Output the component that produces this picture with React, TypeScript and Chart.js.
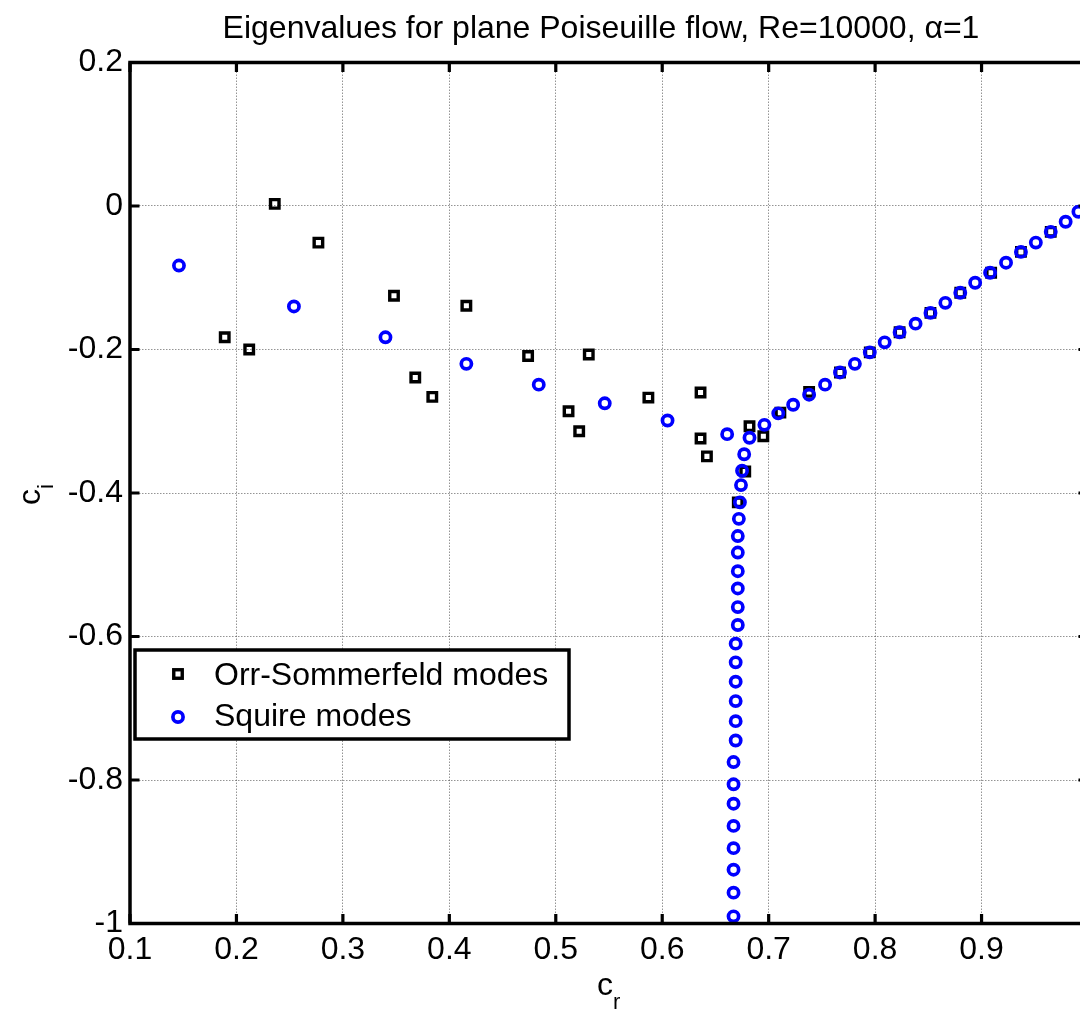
import React, { useEffect, useRef } from 'react';
import { Chart, registerables } from 'chart.js';

Chart.register(...registerables);

// ---- data ----
const osCr = [
  0.236, 0.277, 0.189, 0.212, 0.348, 0.416, 0.474, 0.531, 0.368, 0.384,
  0.587, 0.636, 0.512, 0.522, 0.636, 0.642, 0.682, 0.695, 0.711, 0.738,
  0.678, 0.671, 0.767, 0.795, 0.823, 0.852, 0.880, 0.909, 0.937, 0.965,
];
const osCi = [
  0.003, -0.051, -0.183, -0.200, -0.125, -0.139, -0.209, -0.207, -0.239, -0.266,
  -0.267, -0.260, -0.286, -0.314, -0.324, -0.349, -0.307, -0.321, -0.288, -0.259,
  -0.370, -0.413, -0.232, -0.204, -0.176, -0.149, -0.121, -0.093, -0.064, -0.036,
];

const sqCr = [
  0.146, 0.254, 0.340, 0.416, 0.484, 0.546, 0.605, 0.661, 0.682, 0.696,
  0.709, 0.723, 0.738, 0.753, 0.767, 0.781, 0.795, 0.809, 0.823, 0.838,
  0.852, 0.866, 0.880, 0.894, 0.908, 0.923, 0.937, 0.951, 0.965, 0.979,
  0.991,
  0.677, 0.675, 0.674, 0.673, 0.672, 0.671, 0.671, 0.671, 0.671, 0.671,
  0.671, 0.669, 0.669, 0.669, 0.669, 0.669, 0.669, 0.667, 0.667, 0.667,
  0.667, 0.667, 0.667, 0.667, 0.667,
];
const sqCi = [
  -0.083, -0.140, -0.183, -0.220, -0.249, -0.275, -0.299, -0.318, -0.323, -0.305,
  -0.289, -0.277, -0.263, -0.249, -0.232, -0.220, -0.204, -0.190, -0.176, -0.164,
  -0.149, -0.135, -0.121, -0.107, -0.093, -0.079, -0.064, -0.051, -0.036, -0.022,
  -0.008,
  -0.346, -0.369, -0.389, -0.413, -0.436, -0.460, -0.483, -0.509, -0.533, -0.559,
  -0.584, -0.610, -0.636, -0.663, -0.690, -0.718, -0.745, -0.775, -0.806, -0.833,
  -0.864, -0.895, -0.925, -0.957, -0.990,
];

const xTicks = [0.1, 0.2, 0.3, 0.4, 0.5, 0.6, 0.7, 0.8, 0.9, 1.0];
const yTicks = [0.2, 0, -0.2, -0.4, -0.6, -0.8, -1];
const xTickLabels = ['0.1', '0.2', '0.3', '0.4', '0.5', '0.6', '0.7', '0.8', '0.9', '1'];
const yTickLabels = ['0.2', '0', '-0.2', '-0.4', '-0.6', '-0.8', '-1'];

const titleText = 'Eigenvalues for plane Poiseuille flow, Re=10000, \u03b1=1';
const seriesNames = ['Orr-Sommerfeld modes', 'Squire modes'];
const xLabelMain = 'c';
const xLabelSub = 'r';
const yLabelMain = 'c';
const yLabelSub = 'i';

const FONT = "'Liberation Sans', Arial, Helvetica, sans-serif";
const OS_COLOR = '#000000';
const SQ_COLOR = '#0000ff';
const SQUARE_R = 6;
const SQUARE_W = 3.4;
const CIRCLE_R = 5.1;
const CIRCLE_W = 3.7;
const FRAME_W = 3.5;

const toPoints = (xs: number[], ys: number[]) => xs.map((v, i) => ({ x: v, y: ys[i] }));

const decorPlugin = {
  id: 'decor',
  afterDatasetsDraw(chart: any) {
    const { ctx, chartArea: a, scales } = chart;
    const xs = scales.x;
    const ys = scales.y;
    ctx.save();
    // frame
    ctx.strokeStyle = '#000';
    ctx.lineWidth = FRAME_W;
    ctx.strokeRect(a.left, a.top, a.right - a.left, a.bottom - a.top);
    // inward ticks
    const TL = 9.5;
    ctx.lineWidth = 3.2;
    ctx.beginPath();
    xTicks.forEach((v) => {
      const px = xs.getPixelForValue(v);
      ctx.moveTo(px, a.bottom);
      ctx.lineTo(px, a.bottom - TL);
      ctx.moveTo(px, a.top);
      ctx.lineTo(px, a.top + TL);
    });
    yTicks.forEach((v) => {
      const py = ys.getPixelForValue(v);
      ctx.moveTo(a.left, py);
      ctx.lineTo(a.left + TL, py);
      ctx.moveTo(a.right, py);
      ctx.lineTo(a.right - TL, py);
    });
    ctx.stroke();

    // legend
    const lx = a.left + 5;
    const ly = 650;
    const lw = 434;
    const lh = 89;
    ctx.fillStyle = '#fff';
    ctx.fillRect(lx, ly, lw, lh);
    ctx.lineWidth = FRAME_W;
    ctx.strokeStyle = '#000';
    ctx.strokeRect(lx, ly, lw, lh);
    const mx = lx + 43;
    const row1 = ly + 24;
    const row2 = ly + 67;
    const half = SQUARE_R * Math.SQRT1_2;
    ctx.lineWidth = SQUARE_W;
    ctx.strokeStyle = OS_COLOR;
    ctx.strokeRect(mx - half, row1 - half, 2 * half, 2 * half);
    ctx.lineWidth = CIRCLE_W;
    ctx.strokeStyle = SQ_COLOR;
    ctx.beginPath();
    ctx.arc(mx, row2, CIRCLE_R, 0, Math.PI * 2);
    ctx.stroke();
    ctx.fillStyle = '#000';
    ctx.font = `32px ${FONT}`;
    ctx.textAlign = 'left';
    ctx.textBaseline = 'alphabetic';
    ctx.fillText(seriesNames[0], lx + 79, ly + 35);
    ctx.fillText(seriesNames[1], lx + 79, ly + 76);
    ctx.restore();
  },
  afterDraw(chart: any) {
    const { ctx, chartArea: a } = chart;
    ctx.save();
    ctx.fillStyle = '#000';
    // title
    ctx.font = `32px ${FONT}`;
    ctx.textAlign = 'center';
    ctx.textBaseline = 'alphabetic';
    ctx.fillText(titleText, (a.left + a.right) / 2 - 8, 38);

    // x label c_r
    ctx.textAlign = 'left';
    ctx.font = `32px ${FONT}`;
    const cw = ctx.measureText(xLabelMain).width;
    const xlx = (a.left + a.right) / 2 - 12;
    ctx.fillText(xLabelMain, xlx, a.bottom + 71);
    ctx.font = `22px ${FONT}`;
    ctx.fillText(xLabelSub, xlx + cw, a.bottom + 85);

    // y label c_i (rotated)
    ctx.save();
    ctx.translate(40, 505);
    ctx.rotate(-Math.PI / 2);
    ctx.font = `32px ${FONT}`;
    const cw2 = ctx.measureText(yLabelMain).width;
    ctx.fillText(yLabelMain, 0, 0);
    ctx.font = `22px ${FONT}`;
    ctx.fillText(yLabelSub, cw2, 13);
    ctx.restore();

    ctx.restore();
  },
};

export default function App() {
  const canvasRef = useRef<HTMLCanvasElement | null>(null);

  useEffect(() => {
    const canvas = canvasRef.current;
    if (!canvas) return;
    const gridColor = 'rgba(0,0,0,0.42)';
    const chart = new Chart(canvas, {
      type: 'scatter',
      data: {
        datasets: [
          {
            label: seriesNames[1],
            data: toPoints(sqCr, sqCi),
            pointStyle: 'circle',
            pointRadius: CIRCLE_R,
            pointBorderWidth: CIRCLE_W,
            pointBorderColor: SQ_COLOR,
            pointBackgroundColor: 'rgba(0,0,0,0)',
            showLine: false,
            order: 0,
          },
          {
            label: seriesNames[0],
            data: toPoints(osCr, osCi),
            pointStyle: 'rect',
            pointRadius: SQUARE_R,
            pointBorderWidth: SQUARE_W,
            pointBorderColor: OS_COLOR,
            pointBackgroundColor: 'rgba(0,0,0,0)',
            showLine: false,
            order: 1,
          },
        ],
      },
      options: {
        responsive: false,
        animation: false,
        devicePixelRatio: 1,
        events: [],
        layout: { padding: { left: 0, top: 62.5, right: 52, bottom: 0 } },
        plugins: {
          legend: { display: false },
          tooltip: { enabled: false },
          title: { display: false },
        },
        scales: {
          x: {
            type: 'linear',
            min: 0.1,
            max: 1.0,
            afterBuildTicks: (s: any) => {
              s.ticks = xTicks.map((v) => ({ value: v }));
            },
            afterFit: (s: any) => {
              s.height = 87.5;
            },
            ticks: {
              autoSkip: false,
              maxRotation: 0,
              padding: 7,
              color: '#000',
              font: { family: FONT, size: 32 },
              callback: (v: any) => {
                const i = xTicks.findIndex((t) => Math.abs(t - v) < 1e-9);
                return i >= 0 ? xTickLabels[i] : '';
              },
            },
            grid: { color: gridColor, lineWidth: 1, drawTicks: false },
            border: { display: false, dash: [1.5, 1.5] },
          },
          y: {
            type: 'linear',
            min: -1,
            max: 0.2,
            afterBuildTicks: (s: any) => {
              s.ticks = yTicks.slice().reverse().map((v) => ({ value: v }));
            },
            afterFit: (s: any) => {
              s.width = 130;
            },
            ticks: {
              autoSkip: false,
              padding: 7,
              color: '#000',
              font: { family: FONT, size: 32 },
              callback: (v: any) => {
                const i = yTicks.findIndex((t) => Math.abs(t - v) < 1e-9);
                return i >= 0 ? yTickLabels[i] : '';
              },
            },
            grid: { color: gridColor, lineWidth: 1, drawTicks: false },
            border: { display: false, dash: [1.5, 1.5] },
          },
        },
      },
      plugins: [decorPlugin],
    } as any);
    return () => chart.destroy();
  }, []);

  return (
    <div
      style={{
        position: 'fixed',
        left: 0,
        top: 0,
        width: 1080,
        height: 1011,
        overflow: 'hidden',
        background: '#fff',
      }}
    >
      <canvas ref={canvasRef} width={1140} height={1011} style={{ display: 'block' }} />
    </div>
  );
}
